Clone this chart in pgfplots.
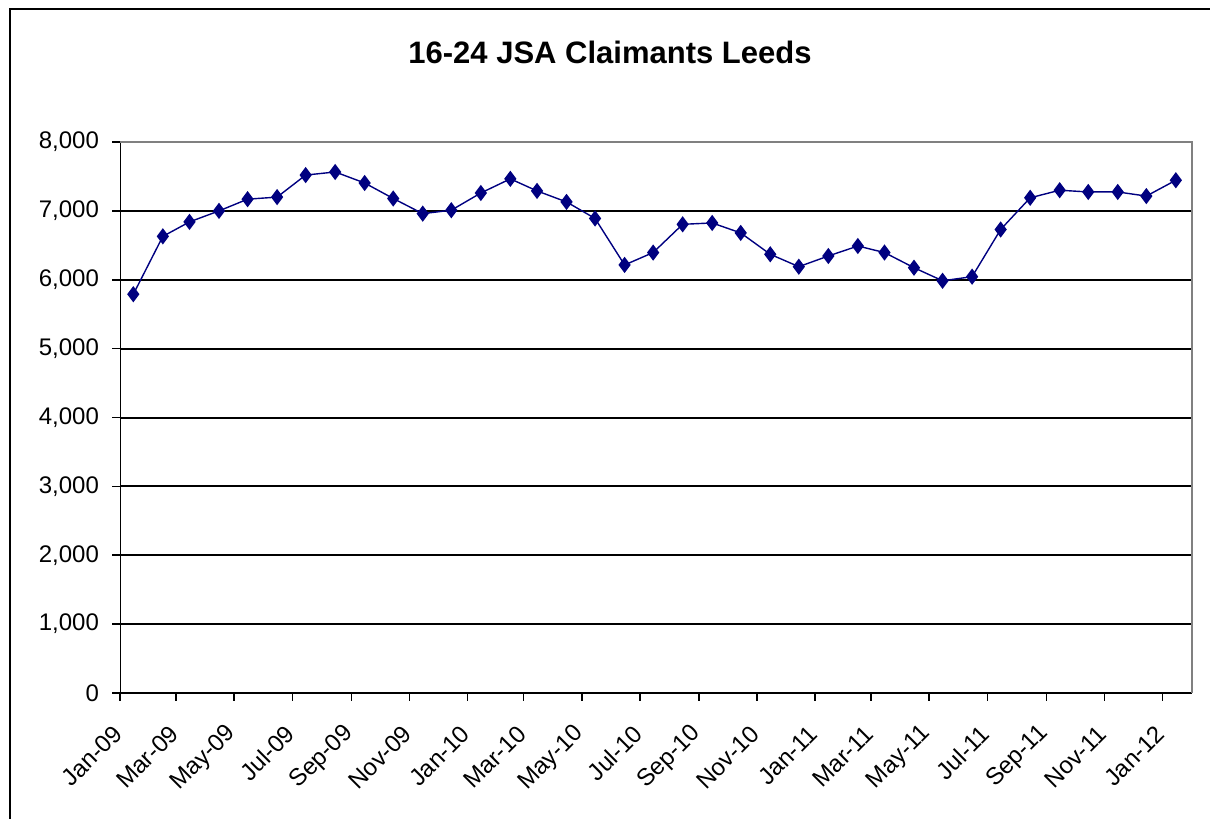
\documentclass[border=0pt]{standalone}
\usepackage{fontspec}
\setmainfont{Liberation Sans}
\usepackage{pgfplots}
\pgfplotsset{compat=1.18}
\definecolor{navyline}{RGB}{0,0,128}
\definecolor{frame}{RGB}{128,128,128}

\begin{document}
\begin{tikzpicture}
% page = 1210 x 819 px, 1 px = 0.5pt
\path[use as bounding box] (0,0) rectangle (605pt,409.5pt);
\draw[line width=1pt] (5pt,-5pt) -- (5pt,404.75pt) -- (610pt,404.75pt);
\node[font=\bfseries\fontsize{15.5}{18}\selectfont] at (305pt,383.5pt) {16-24 JSA Claimants Leeds};

\begin{axis}[
    at={(60pt,63pt)}, anchor=south west,
    scale only axis,
    width=536pt, height=275.5pt,
    xmin=0, xmax=1126,
    ymin=0, ymax=8000,
    axis line style={draw=none},
    tick pos=left,
    tick align=outside,
    major tick length=4pt,
    tick style={black, line width=0.8pt},
    xtick={0,59,120,181,243,304,365,424,485,546,608,669,730,789,850,911,973,1034,1095},
    xticklabels={Jan-09,Mar-09,May-09,Jul-09,Sep-09,Nov-09,Jan-10,Mar-10,May-10,Jul-10,Sep-10,Nov-10,Jan-11,Mar-11,May-11,Jul-11,Sep-11,Nov-11,Jan-12},
    ytick={0,1000,...,8000},
    ymajorgrids,
    major grid style={black, line width=1pt},
    /pgf/number format/assume math mode=true,
    /pgf/number format/1000 sep={,},
    scaled y ticks=false,
    tick label style={font=\fontsize{12}{14}\selectfont},
    yticklabel style={xshift=-3pt},
    xticklabel style={xshift=1.5pt, yshift=-12pt, rotate=45, anchor=east},
    clip=false,
]
\addplot[navyline, line width=0.7pt, mark=diamond*, mark size=3.5pt, mark options={fill=navyline}] coordinates {
(14,5790)(45,6630)(73,6840)(104,7000)(134,7170)(165,7200)(195,7520)(226,7565)
(257,7405)(287,7180)(318,6960)(348,7010)(379,7260)(410,7465)(438,7290)(469,7130)
(499,6890)(530,6215)(560,6395)(591,6805)(622,6825)(652,6680)(683,6370)(713,6190)
(744,6345)(775,6490)(803,6395)(834,6175)(864,5985)(895,6045)(925,6730)(956,7190)
(987,7300)(1017,7275)(1048,7275)(1078,7215)(1109,7445)
};
\draw[black, line width=0.5pt] (rel axis cs:0,0) -- (rel axis cs:0,1);
\draw[black, line width=1pt] (rel axis cs:0,0) -- (rel axis cs:1,0);
\draw[frame, line width=1pt] (rel axis cs:0,1) -- (rel axis cs:1,1) -- (rel axis cs:1,0);
\end{axis}
\end{tikzpicture}
\end{document}
